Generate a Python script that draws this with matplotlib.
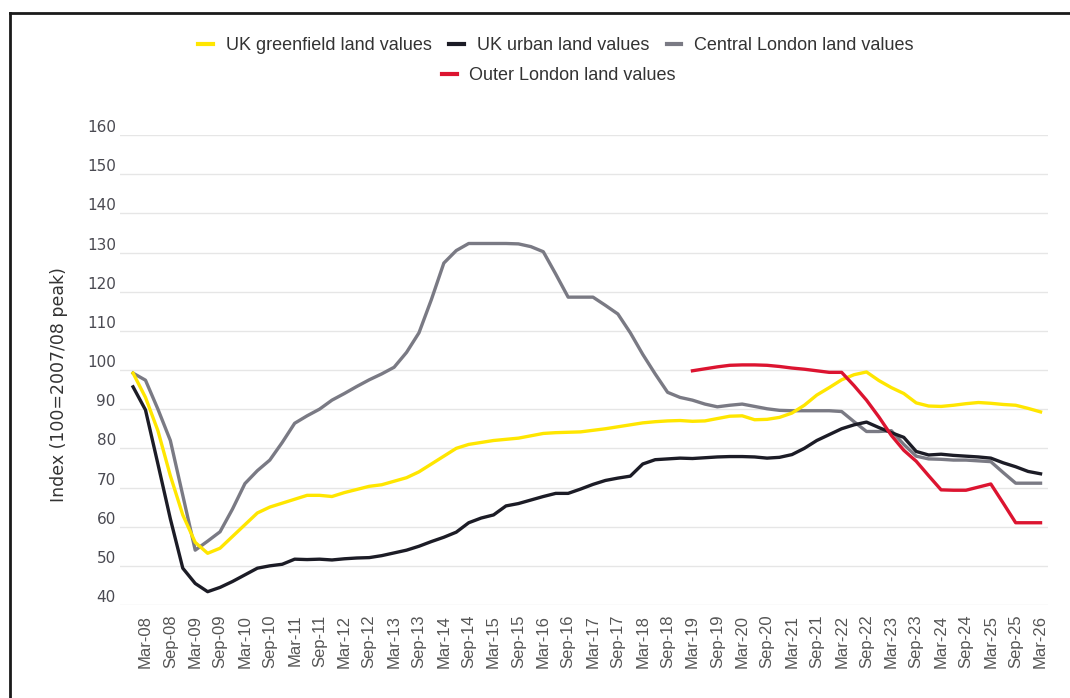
import matplotlib
matplotlib.use("Agg")
import matplotlib.pyplot as plt
import matplotlib.transforms as mtransforms
from matplotlib.lines import Line2D
import numpy as np

# quarterly index values, Dec-07 to Mar-26 (100 = 2007/08 peak)
greenfield = [99.2, 93, 84.5, 73, 63, 56, 53.2, 54.5, 57.5, 60.5,
              63.5, 65, 66, 67, 68, 68, 67.7, 68.7, 69.5, 70.3,
              70.7, 71.6, 72.5, 74, 76, 78, 80, 81, 81.5, 82,
              82.3, 82.6, 83.2, 83.8, 84, 84.1, 84.2, 84.6, 85, 85.5,
              86, 86.5, 86.8, 87, 87.1, 86.9, 87, 87.6, 88.2, 88.3,
              87.3, 87.4, 87.9, 89, 91, 93.6, 95.5, 97.5, 98.8, 99.5,
              97.3, 95.5, 94, 91.6, 90.8, 90.7, 91, 91.4, 91.7, 91.5,
              91.2, 91, 90.2, 89.3]
urban = [95.7, 89.8, 76, 62, 49.4, 45.5, 43.4, 44.5, 46, 47.7,
         49.4, 50, 50.4, 51.7, 51.6, 51.7, 51.5, 51.8, 52, 52.1,
         52.6, 53.3, 54, 55, 56.2, 57.3, 58.6, 61, 62.2, 63,
         65.3, 65.9, 66.8, 67.7, 68.5, 68.5, 69.6, 70.8, 71.8, 72.4,
         72.9, 76, 77.1, 77.3, 77.5, 77.4, 77.6, 77.8, 77.9, 77.9,
         77.8, 77.5, 77.7, 78.4, 80, 82, 83.5, 85, 86, 86.7,
         85.3, 84, 82.8, 79.2, 78.3, 78.5, 78.2, 78, 77.8, 77.5,
         76.3, 75.3, 74.1, 73.5]
central_london = [99.2, 97.4, 90, 82, 68, 54, 56.3, 58.7, 64.5, 71,
                  74.3, 77, 81.5, 86.4, 88.3, 90, 92.3, 94, 95.8, 97.5,
                  99, 100.7, 104.5, 109.5, 118, 127.3, 130.5, 132.3, 132.3, 132.3,
                  132.3, 132.2, 131.5, 130.2, 124.5, 118.6, 118.6, 118.6, 116.5, 114.3,
                  109.5, 104, 99, 94.3, 93, 92.3, 91.3, 90.6, 91, 91.3,
                  90.7, 90.1, 89.7, 89.6, 89.6, 89.6, 89.6, 89.4, 86.8, 84.3,
                  84.3, 84.5, 81, 78, 77.3, 77.2, 77, 77, 76.8, 76.6,
                  73.8, 71.1, 71.1, 71.1]
# outer London series starts at Mar-19
outer_start = 45
outer_london = [99.8, 100.3, 100.8, 101.2, 101.3, 101.3, 101.2, 100.9, 100.5, 100.2,
                99.8, 99.4, 99.4, 96, 92.3, 88, 83.3, 79.5, 76.7, 73,
                69.4, 69.3, 69.3, 70.1, 70.9, 66, 61, 61, 61]

tick_labels = ['Mar-08', 'Sep-08', 'Mar-09', 'Sep-09', 'Mar-10', 'Sep-10', 'Mar-11',
               'Sep-11', 'Mar-12', 'Sep-12', 'Mar-13', 'Sep-13', 'Mar-14', 'Sep-14',
               'Mar-15', 'Sep-15', 'Mar-16', 'Sep-16', 'Mar-17', 'Sep-17', 'Mar-18',
               'Sep-18', 'Mar-19', 'Sep-19', 'Mar-20', 'Sep-20', 'Mar-21', 'Sep-21',
               'Mar-22', 'Sep-22', 'Mar-23', 'Sep-23', 'Mar-24', 'Sep-24', 'Mar-25',
               'Sep-25', 'Mar-26']
y_ticks = list(range(40, 161, 10))

YELLOW = '#ffe600'
DARK = '#1c1c26'
GREY = '#7a7a84'
RED = '#dc1430'

fig = plt.figure(figsize=(10.70, 6.98), dpi=100)
ax = fig.add_axes([120 / 1070, 1 - 605 / 698, 928 / 1070, 470 / 698])

x = np.arange(len(greenfield))
x_outer = np.arange(outer_start, outer_start + len(outer_london))

lw = 2.4
ax.plot(x, greenfield, color=YELLOW, lw=lw, label='UK greenfield land values', zorder=3)
ax.plot(x, urban, color=DARK, lw=lw, label='UK urban land values', zorder=3)
ax.plot(x, central_london, color=GREY, lw=lw, label='Central London land values', zorder=2)
ax.plot(x_outer, outer_london, color=RED, lw=lw, label='Outer London land values', zorder=4)

ax.set_xlim(-1.05, 73.6)
ax.set_ylim(40, 160)
ax.set_yticks(y_ticks)
ax.grid(axis='y', color='#e6e6e6', lw=1)
ax.set_axisbelow(True)
for s in ax.spines.values():
    s.set_visible(False)

ax.set_xticks(np.arange(1, len(greenfield), 2))
ax.set_xticklabels(tick_labels, rotation=90, fontsize=12, family='Liberation Sans',
                   color='#555555')
ax.tick_params(axis='x', length=0, pad=7)
ax.tick_params(axis='y', length=0, pad=3, labelsize=11, labelcolor='#4a4a52')

# y labels sit a little above their gridlines
shift = mtransforms.ScaledTranslation(0, 0.09, fig.dpi_scale_trans)
for lab in ax.get_yticklabels():
    lab.set_transform(lab.get_transform() + shift)

ax.set_ylabel('Index (100=2007/08 peak)', fontsize=12.5, color='#333333')
ax.yaxis.set_label_coords(-0.056, 0.468)

handles, labels = ax.get_legend_handles_labels()
leg_kw = dict(frameon=False, handlelength=0.8, handletextpad=0.7,
              columnspacing=1.0, prop={'family': 'Liberation Sans', 'size': 13})
leg1 = fig.legend(handles[:3], labels[:3], ncol=3, loc='center',
                  bbox_to_anchor=(556 / 1070, 1 - 46 / 698), **leg_kw)
leg2 = fig.legend(handles[3:], labels[3:], ncol=1, loc='center',
                  bbox_to_anchor=(559 / 1070, 1 - 76 / 698), **leg_kw)
for leg in (leg1, leg2):
    for t in leg.get_texts():
        t.set_color('#333333')
    for h in leg.legend_handles:
        h.set_linewidth(3)

# frame around the chart
fy = 1 - 13 / 698
fx = 10 / 1070
fig.add_artist(Line2D([fx, 1.0], [fy, fy], color='#1a1a1a', lw=2))
fig.add_artist(Line2D([fx, fx], [0.0, fy], color='#1a1a1a', lw=2))

fig.savefig('out.png', dpi=100)
